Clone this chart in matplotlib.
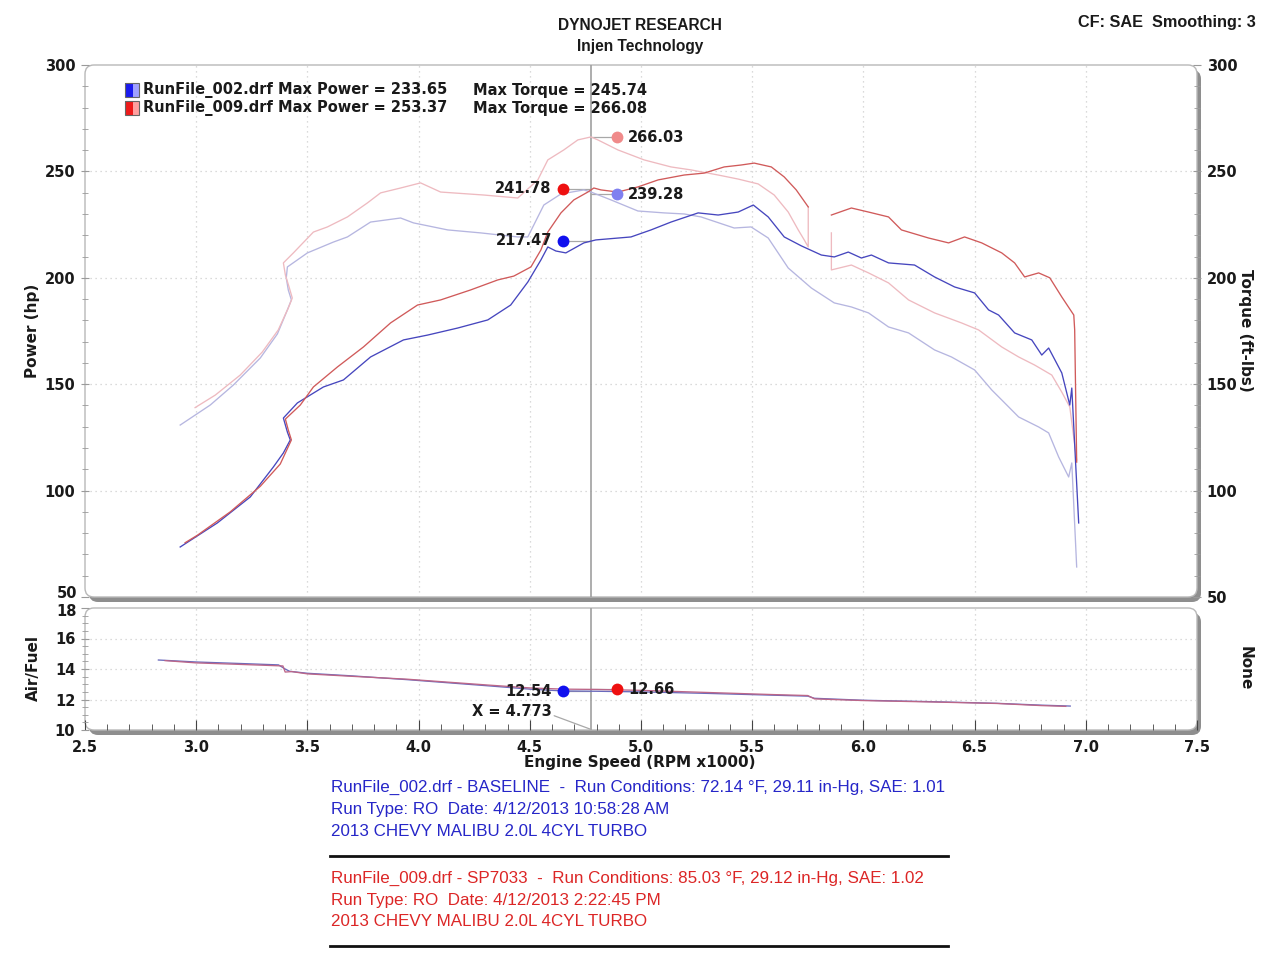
import matplotlib
matplotlib.use('Agg')
import matplotlib.pyplot as plt
from matplotlib import font_manager
from matplotlib.patches import FancyBboxPatch, Rectangle
from matplotlib.lines import Line2D
from matplotlib.ticker import MultipleLocator, FixedLocator

# ---------------- data ----------------
# Run 002 (baseline, blue) power, hp
bp_rpm = [2.928, 3.095, 3.243, 3.347, 3.392, 3.423, 3.410, 3.392, 3.455, 3.572, 3.662, 3.784, 3.932, 4.041,
          4.176, 4.311, 4.414, 4.491, 4.550, 4.581, 4.617, 4.662, 4.743, 4.797, 4.955, 5.045, 5.135, 5.257,
          5.347, 5.437, 5.505, 5.572, 5.644, 5.721, 5.811, 5.869, 5.932, 5.991, 6.036, 6.113, 6.230, 6.320,
          6.410, 6.500, 6.563, 6.608, 6.680, 6.757, 6.802, 6.833, 6.892, 6.928, 6.937, 6.968]
bp_hp = [73.5, 84.8, 97.0, 111.1, 117.7, 123.8, 127.5, 134.1, 141.2, 148.7, 152.0, 162.8, 170.8, 173.1,
         176.4, 180.2, 187.2, 198.0, 208.4, 214.5, 212.6, 211.7, 216.4, 217.8, 219.2, 222.5, 226.2, 230.5,
         229.5, 230.9, 234.2, 228.6, 219.2, 215.0, 210.7, 209.8, 212.1, 209.3, 210.7, 207.0, 206.0, 200.4,
         195.7, 192.9, 184.9, 182.5, 174.1, 170.8, 163.7, 167.0, 155.3, 140.2, 148.2, 84.8]

# Run 009 (SP7033, red) power, hp – two segments (data gap near 5.8)
rp1_rpm = [2.950, 3.005, 3.153, 3.288, 3.378, 3.428, 3.414, 3.401, 3.468, 3.527, 3.635, 3.752, 3.874, 3.995,
           4.099, 4.234, 4.356, 4.428, 4.505, 4.550, 4.581, 4.640, 4.698, 4.761, 4.788, 4.820, 4.896, 4.986,
           5.077, 5.194, 5.284, 5.374, 5.450, 5.509, 5.586, 5.644, 5.698, 5.752]
rp1_hp = [75.5, 79.0, 90.0, 102.0, 112.5, 123.8, 128.5, 133.6, 140.2, 148.7, 158.1, 167.5, 178.8, 187.2,
          189.6, 194.3, 199.0, 200.8, 205.1, 213.1, 221.5, 230.5, 236.6, 240.3, 242.2, 241.3, 240.3, 242.7,
          246.0, 248.3, 249.2, 252.1, 253.0, 253.9, 252.1, 247.4, 241.3, 233.3]
rp2_rpm = [5.856, 5.946, 6.023, 6.113, 6.171, 6.293, 6.383, 6.455, 6.532, 6.622, 6.680, 6.725, 6.788, 6.838,
           6.892, 6.946, 6.950, 6.959]
rp2_hp = [229.5, 232.8, 230.9, 228.6, 222.5, 218.7, 216.4, 219.2, 216.4, 211.7, 207.0, 200.4, 202.3, 200.0,
          191.0, 182.5, 175.5, 113.4]

# Run 002 torque, ft-lbs
bt_rpm = [2.928, 3.063, 3.167, 3.288, 3.365, 3.410, 3.428, 3.414, 3.405, 3.410, 3.500, 3.617, 3.680, 3.784,
          3.919, 3.977, 4.131, 4.279, 4.446, 4.491, 4.563, 4.640, 4.743, 4.775, 4.865, 4.986, 5.104, 5.194,
          5.270, 5.419, 5.495, 5.572, 5.662, 5.766, 5.869, 5.946, 6.023, 6.113, 6.203, 6.320, 6.396, 6.500,
          6.577, 6.622, 6.698, 6.788, 6.833, 6.878, 6.923, 6.937, 6.959]
bt_tq = [130.8, 140.2, 149.6, 162.3, 173.6, 184.9, 189.6, 194.3, 199.9, 205.1, 211.7, 216.8, 219.2, 226.2,
         228.1, 225.8, 222.5, 221.1, 219.2, 219.2, 234.2, 239.4, 241.3, 240.3, 236.6, 231.4, 230.5, 230.0,
         228.6, 223.4, 223.9, 218.7, 204.6, 195.2, 188.2, 186.3, 183.5, 176.9, 174.1, 166.1, 162.8, 156.7,
         147.3, 142.6, 134.6, 129.9, 127.1, 115.8, 106.4, 113.0, 64.1]

# Run 009 torque, ft-lbs – two segments
rt1_rpm = [2.995, 3.086, 3.198, 3.297, 3.369, 3.414, 3.432, 3.419, 3.401, 3.392, 3.437, 3.527, 3.590, 3.680,
           3.770, 3.829, 3.919, 4.009, 4.099, 4.293, 4.446, 4.536, 4.581, 4.653, 4.716, 4.775, 4.806, 4.896,
           5.014, 5.135, 5.225, 5.347, 5.437, 5.527, 5.599, 5.662, 5.707, 5.734, 5.752, 5.752]
rt1_tq = [139.0, 144.9, 154.3, 165.1, 175.5, 185.8, 190.5, 195.2, 201.3, 207.0, 211.7, 221.5, 223.9, 228.6,
          235.2, 239.9, 242.2, 244.6, 240.3, 238.9, 237.5, 246.0, 255.4, 260.1, 264.8, 266.2, 264.8, 260.1,
          255.4, 252.1, 250.7, 248.3, 246.4, 244.1, 238.9, 230.9, 222.5, 217.8, 214.5, 233.3]
rt2_rpm = [5.856, 5.856, 5.946, 6.023, 6.113, 6.203, 6.320, 6.441, 6.518, 6.622, 6.698, 6.770, 6.847, 6.892,
           6.928, 6.959]
rt2_tq = [221.1, 203.7, 206.0, 202.3, 197.6, 189.6, 183.5, 178.8, 175.5, 167.5, 162.8, 159.0, 154.3, 146.3,
          139.3, 114.4]

# Air/Fuel ratio
af_b_rpm = [2.83, 3.00, 3.20, 3.37, 3.40, 3.42, 3.50, 3.70, 3.95, 4.31, 4.50, 4.65, 4.80, 5.00, 5.30, 5.60,
            5.75, 5.78, 6.00, 6.30, 6.60, 6.80, 6.93]
af_b = [14.59, 14.46, 14.36, 14.27, 14.00, 13.85, 13.72, 13.55, 13.30, 12.90, 12.68, 12.56, 12.54, 12.50,
        12.40, 12.28, 12.22, 12.08, 11.95, 11.86, 11.75, 11.63, 11.57]
af_r_rpm = [2.86, 3.00, 3.20, 3.39, 3.40, 3.43, 3.50, 3.70, 3.95, 4.31, 4.50, 4.65, 4.80, 5.00, 5.30, 5.60,
            5.75, 5.78, 6.00, 6.30, 6.60, 6.80, 6.91]
af_r = [14.55, 14.40, 14.30, 14.20, 13.80, 13.83, 13.68, 13.52, 13.33, 12.95, 12.76, 12.68, 12.66, 12.60,
        12.46, 12.32, 12.26, 12.04, 11.93, 11.84, 11.74, 11.60, 11.55]

# cursor readout
cursor_x = 4.773
cur_power_red, cur_power_blue = 241.78, 217.47
cur_torque_red, cur_torque_blue = 266.03, 239.28
cur_af_blue, cur_af_red = 12.54, 12.66

legend_rows = [("RunFile_002.drf", 233.65, 245.74), ("RunFile_009.drf", 253.37, 266.08)]
x_ticks = [2.5, 3.0, 3.5, 4.0, 4.5, 5.0, 5.5, 6.0, 6.5, 7.0, 7.5]
hp_ticks = [50, 100, 150, 200, 250, 300]
af_ticks = [10, 12, 14, 16, 18]

info_blue = ["RunFile_002.drf - BASELINE  -  Run Conditions: 72.14 \u00b0F, 29.11 in-Hg, SAE: 1.01",
             "Run Type: RO  Date: 4/12/2013 10:58:28 AM",
             "2013 CHEVY MALIBU 2.0L 4CYL TURBO"]
info_red = ["RunFile_009.drf - SP7033  -  Run Conditions: 85.03 \u00b0F, 29.12 in-Hg, SAE: 1.02",
            "Run Type: RO  Date: 4/12/2013 2:22:45 PM",
            "2013 CHEVY MALIBU 2.0L 4CYL TURBO"]

# ---------------- styling ----------------
names = {f.name for f in font_manager.fontManager.ttflist}
if 'Liberation Sans Narrow' in names:
    NARROW, NSCALE = 'Liberation Sans Narrow', 1.0
else:
    NARROW, NSCALE = 'Liberation Sans', 0.91
BOLD = 'DejaVu Sans'
TXT = '#1a1a1a'

C_BP = '#4646be'
C_RP = '#d05a5a'
C_BT = '#b6b6e0'
C_RT = '#eebac0'

W, H = 1280, 960
fig = plt.figure(figsize=(12.8, 9.6), dpi=100)
fig.patch.set_facecolor('white')


def fx(x):
    return x / W


def fy(y):
    return 1 - y / H


L, R = 85, 1197
T1, B1 = 65, 597
T2, B2 = 608, 730

ax1 = fig.add_axes([fx(L), fy(B1), (R - L) / W, (B1 - T1) / H])
ax2 = fig.add_axes([fx(L), fy(B2), (R - L) / W, (B2 - T2) / H])


def panel(x0, y0, x1, y1):
    rs = 0.09
    sh = FancyBboxPatch(((x0 + 4) / 100, (H - y1 - 5) / 100), (x1 - x0) / 100, (y1 - y0) / 100,
                        boxstyle=f"round,pad=0,rounding_size={rs}", transform=fig.dpi_scale_trans,
                        facecolor='#8e8e8e', edgecolor='none', zorder=-3)
    mn = FancyBboxPatch((x0 / 100, (H - y1) / 100), (x1 - x0) / 100, (y1 - y0) / 100,
                        boxstyle=f"round,pad=0,rounding_size={rs}", transform=fig.dpi_scale_trans,
                        facecolor='white', edgecolor='#b8b8b8', lw=1.0, zorder=-2)
    fig.add_artist(sh)
    fig.add_artist(mn)


panel(L, T1, R, B1)
panel(L, T2, R, B2)

for ax in (ax1, ax2):
    ax.patch.set_visible(False)
    for s in ax.spines.values():
        s.set_visible(False)
    ax.set_xlim(2.5, 7.5)
    for xv in x_ticks[1:-1]:
        ax.axvline(xv, color='#cfcfcf', lw=0.9, ls=(0, (1, 3)), zorder=0)

ax1.set_ylim(50, 300)
ax2.set_ylim(10, 18)
for yv in hp_ticks[1:-1]:
    ax1.axhline(yv, color='#cfcfcf', lw=0.9, ls=(0, (1, 3)), zorder=0)
for yv in af_ticks[1:-1]:
    ax2.axhline(yv, color='#cfcfcf', lw=0.9, ls=(0, (1, 3)), zorder=0)

# curves
lw = 0.95
ax1.plot(bt_rpm, bt_tq, color=C_BT, lw=lw, zorder=2)
ax1.plot(rt1_rpm, rt1_tq, color=C_RT, lw=lw, zorder=2)
ax1.plot(rt2_rpm, rt2_tq, color=C_RT, lw=lw, zorder=2)
ax1.plot(bp_rpm, bp_hp, color=C_BP, lw=lw, zorder=3)
ax1.plot(rp1_rpm, rp1_hp, color=C_RP, lw=lw, zorder=3)
ax1.plot(rp2_rpm, rp2_hp, color=C_RP, lw=lw, zorder=3)

ax2.plot(af_b_rpm, af_b, color='#6a6abc', lw=0.95, zorder=3)
ax2.plot(af_r_rpm, af_r, color='#bc6688', lw=0.95, zorder=3)

# cursor
for ax in (ax1, ax2):
    ax.axvline(cursor_x, color='#a0a0a0', lw=1.2, zorder=1)

dl = cursor_x - 0.124
dr = cursor_x + 0.119
lead = dict(color='#a8a8a8', lw=0.9, zorder=1)
ax1.plot([dl, cursor_x], [cur_power_red, cur_power_red], **lead)
ax1.plot([cursor_x, dr], [cur_torque_blue, cur_torque_blue], **lead)
ax1.plot([cursor_x, dr], [cur_torque_red, cur_torque_red], **lead)
ax1.plot([dl, cursor_x], [cur_power_blue, cur_power_blue], **lead)
ax2.plot([dl, cursor_x], [cur_af_blue, cur_af_blue], **lead)
ax2.plot([cursor_x, dr], [cur_af_red, cur_af_red], **lead)

ms = 8.5
ax1.plot([dr], [cur_torque_red], 'o', color='#f08a8a', ms=ms, mec='none', zorder=5)
ax1.plot([dl], [cur_power_red], 'o', color='#ee1010', ms=ms, mec='none', zorder=5)
ax1.plot([dr], [cur_torque_blue], 'o', color='#8080f0', ms=ms, mec='none', zorder=5)
ax1.plot([dl], [cur_power_blue], 'o', color='#1010ee', ms=ms, mec='none', zorder=5)
ax2.plot([dl], [cur_af_blue], 'o', color='#1010ee', ms=ms, mec='none', zorder=5)
ax2.plot([dr], [cur_af_red], 'o', color='#ee1010', ms=ms, mec='none', zorder=5)

lab = dict(fontsize=10.5, fontweight='bold', family=BOLD, color=TXT, va='center', zorder=6)
offx = 0.05
ax1.text(dr + offx, cur_torque_red, f"{cur_torque_red:.2f}", ha='left', **lab)
ax1.text(dl - offx, cur_power_red, f"{cur_power_red:.2f}", ha='right', **lab)
ax1.text(dr + offx, cur_torque_blue, f"{cur_torque_blue:.2f}", ha='left', **lab)
ax1.text(dl - offx, cur_power_blue, f"{cur_power_blue:.2f}", ha='right', **lab)
ax2.text(dl - offx, cur_af_blue, f"{cur_af_blue:.2f}", ha='right', **lab)
ax2.text(dr + offx, cur_af_red, f"{cur_af_red:.2f}", ha='left', **lab)
ax2.annotate(f"X = {cursor_x:.3f}", xy=(cursor_x, 10.05), xytext=(4.597, 11.2),
             ha='right', va='center', fontsize=10.5, fontweight='bold', family=BOLD, color=TXT,
             arrowprops=dict(arrowstyle='-', color='#a8a8a8', lw=0.9, shrinkA=0, shrinkB=0,
                             relpos=(1.0, 0.3)))

# ticks
tick_lab = dict(labelsize=10.5, labelcolor=TXT)
ax1.set_xticks([])
ax1.yaxis.set_major_locator(FixedLocator(hp_ticks))
ax1.yaxis.set_minor_locator(MultipleLocator(10))
ax1.tick_params(axis='y', which='both', left=True, right=True, labelleft=True, labelright=True,
                direction='inout', color='#9a9a9a', **tick_lab)
ax1.tick_params(axis='y', which='major', length=6, pad=4)
ax1.tick_params(axis='y', which='minor', length=5)

ax2.yaxis.set_major_locator(FixedLocator(af_ticks))
ax2.yaxis.set_minor_locator(MultipleLocator(0.5))
ax2.tick_params(axis='y', which='both', direction='inout', color='#9a9a9a', **tick_lab)
ax2.tick_params(axis='y', which='major', length=6, pad=4)
ax2.tick_params(axis='y', which='minor', length=4)
ax2.set_xticks(x_ticks)
ax2.xaxis.set_minor_locator(MultipleLocator(0.1))
ax2.tick_params(axis='x', which='both', direction='in', color='#444444', **tick_lab)
ax2.tick_params(axis='x', which='major', length=7, pad=7)
ax2.tick_params(axis='x', which='minor', length=4)
ax2.set_xticklabels([f"{v:.1f}" for v in x_ticks])
for ax in (ax1, ax2):
    for t in ax.get_xticklabels() + ax.get_yticklabels():
        t.set_fontweight('bold')
        t.set_family(BOLD)

# the left "50" and "18" labels sit tight together: draw them by hand, nudged apart
ax1.yaxis.get_major_ticks()[0].label1.set_visible(False)
ax2.yaxis.get_major_ticks()[-1].label1.set_visible(False)
tk = dict(family=BOLD, fontweight='bold', color=TXT, fontsize=10.5, ha='right', va='center')
fig.text(fx(77), fy(593), f"{hp_ticks[0]}", **tk)
fig.text(fx(77), fy(611), f"{af_ticks[-1]}", **tk)

# titles and axis labels
nb = dict(family=NARROW, fontweight='bold', color=TXT, va='center')
fig.text(fx(640), fy(25), "DYNOJET RESEARCH", ha='center', fontsize=12.3 * NSCALE, **nb)
fig.text(fx(640), fy(47), "Injen Technology", ha='center', fontsize=12.3 * NSCALE, **nb)
fig.text(fx(1256), fy(22), "CF: SAE  Smoothing: 3", ha='right', fontsize=12.9 * NSCALE, **nb)

al = dict(family=BOLD, fontweight='bold', color=TXT, fontsize=11, ha='center', va='center')
fig.text(fx(33), fy(331), "Power (hp)", rotation=90, **al)
fig.text(fx(1245), fy(330), "Torque (ft-lbs)", rotation=270, **al)
fig.text(fx(33), fy(668), "Air/Fuel", rotation=90, **al)
fig.text(fx(1245), fy(668), "None", rotation=270, **al)
fig.text(fx(640), fy(763), "Engine Speed (RPM x1000)", **al)

# legend
lg = dict(family=BOLD, fontweight='bold', color=TXT, fontsize=10.5, va='center', ha='left')
icon_cols = [('#1a1aee', '#a0a0ff'), ('#ee1a1a', '#ffa0a0')]
for i, (name, mp, mt) in enumerate(legend_rows):
    yc = 90 + 18 * i
    dark, light = icon_cols[i]
    fig.add_artist(Rectangle((fx(125), fy(yc + 7)), 8 / W, 14 / H, transform=fig.transFigure,
                             facecolor=dark, edgecolor='none'))
    fig.add_artist(Rectangle((fx(133), fy(yc + 7)), 6 / W, 14 / H, transform=fig.transFigure,
                             facecolor=light, edgecolor='none'))
    fig.add_artist(Rectangle((fx(125), fy(yc + 7)), 14 / W, 14 / H, transform=fig.transFigure,
                             facecolor='none', edgecolor='#666666', lw=0.8))
    fig.text(fx(143), fy(yc), f"{name} Max Power = {mp:.2f}", **lg)
    fig.text(fx(473), fy(yc), f"Max Torque = {mt:.2f}", **lg)

# info block
inf = dict(family=NARROW, fontsize=13.5 * NSCALE, va='center', ha='left')
for i, s in enumerate(info_blue):
    fig.text(fx(331), fy(787 + 22.5 * i), s, color='#2626c8', **inf)
for i, s in enumerate(info_red):
    fig.text(fx(331), fy(878 + 22 * i), s, color='#dc2626', **inf)
for yl in (856, 946):
    fig.add_artist(Line2D([fx(330), fx(948)], [fy(yl), fy(yl)], color='#111111', lw=2.0,
                          transform=fig.transFigure))

fig.savefig('out.png', dpi=100, facecolor='white')
